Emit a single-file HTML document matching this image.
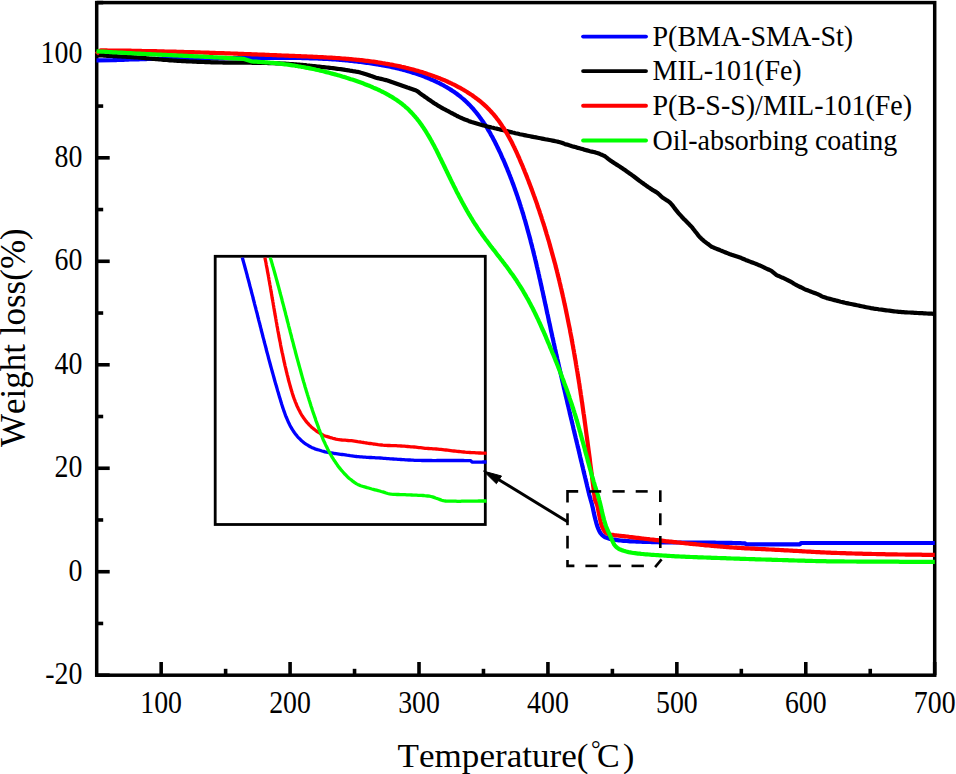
<!DOCTYPE html>
<html><head><meta charset="utf-8"><style>
html,body{margin:0;padding:0;background:#fff;}
body{width:956px;height:774px;overflow:hidden;position:relative;}
svg{position:absolute;left:0;top:0;}
text{font-family:"Liberation Serif",serif;fill:#000;font-kerning:none;}
</style></head><body>
<svg width="956" height="774" viewBox="0 0 956 774">
<g stroke="#000" stroke-width="3.6"><line x1="161.16" y1="675.2" x2="161.16" y2="662.00"/><line x1="290.08" y1="675.2" x2="290.08" y2="662.00"/><line x1="419.01" y1="675.2" x2="419.01" y2="662.00"/><line x1="547.93" y1="675.2" x2="547.93" y2="662.00"/><line x1="676.85" y1="675.2" x2="676.85" y2="662.00"/><line x1="805.78" y1="675.2" x2="805.78" y2="662.00"/><line x1="934.70" y1="675.2" x2="934.70" y2="662.00"/><line x1="225.62" y1="675.2" x2="225.62" y2="668.80"/><line x1="354.55" y1="675.2" x2="354.55" y2="668.80"/><line x1="483.47" y1="675.2" x2="483.47" y2="668.80"/><line x1="612.39" y1="675.2" x2="612.39" y2="668.80"/><line x1="741.32" y1="675.2" x2="741.32" y2="668.80"/><line x1="870.24" y1="675.2" x2="870.24" y2="668.80"/><line x1="96.7" y1="675.20" x2="109.70" y2="675.20"/><line x1="96.7" y1="571.72" x2="109.70" y2="571.72"/><line x1="96.7" y1="468.25" x2="109.70" y2="468.25"/><line x1="96.7" y1="364.77" x2="109.70" y2="364.77"/><line x1="96.7" y1="261.29" x2="109.70" y2="261.29"/><line x1="96.7" y1="157.82" x2="109.70" y2="157.82"/><line x1="96.7" y1="54.34" x2="109.70" y2="54.34"/><line x1="96.7" y1="623.46" x2="103.20" y2="623.46"/><line x1="96.7" y1="519.98" x2="103.20" y2="519.98"/><line x1="96.7" y1="416.51" x2="103.20" y2="416.51"/><line x1="96.7" y1="313.03" x2="103.20" y2="313.03"/><line x1="96.7" y1="209.55" x2="103.20" y2="209.55"/><line x1="96.7" y1="106.08" x2="103.20" y2="106.08"/><line x1="96.7" y1="2.60" x2="103.20" y2="2.60"/></g>
<rect x="96.7" y="2.6" width="838.0" height="672.6" fill="none" stroke="#000" stroke-width="3.5"/>
<g fill="none" stroke-linejoin="round" stroke-linecap="butt" stroke-width="4.2">
<polyline points="96.5,60.3 113.0,60.2 114.5,60.1 116.0,60.1 117.5,60.0 119.0,59.9 120.5,59.9 122.0,59.8 123.5,59.8 125.0,59.7 126.5,59.6 128.0,59.6 129.5,59.5 131.0,59.5 132.5,59.4 134.0,59.4 135.5,59.3 137.0,59.3 138.5,59.3 140.0,59.2 141.5,59.2 143.0,59.1 144.5,59.1 146.0,59.1 147.5,59.0 149.0,59.0 150.5,59.0 152.0,58.9 153.5,58.9 155.0,58.9 156.6,58.9 158.1,58.8 159.6,58.8 161.1,58.8 162.6,58.8 164.1,58.7 165.6,58.7 167.1,58.7 168.6,58.7 170.1,58.7 171.6,58.7 173.1,58.6 174.6,58.6 176.1,58.6 177.6,58.6 179.1,58.6 180.6,58.6 182.1,58.6 183.6,58.5 185.1,58.5 186.6,58.5 188.1,58.5 189.6,58.5 191.1,58.5 192.6,58.5 194.1,58.5 195.6,58.5 197.1,58.4 198.6,58.4 200.1,58.4 201.6,58.4 203.1,58.4 204.6,58.4 206.1,58.4 207.6,58.4 209.1,58.4 210.6,58.4 212.1,58.3 213.6,58.3 215.1,58.3 216.7,58.3 218.2,58.3 219.7,58.3 221.2,58.3 222.7,58.3 224.2,58.3 225.7,58.2 227.2,58.2 228.7,58.2 230.2,58.2 231.7,58.2 233.2,58.2 234.7,58.2 236.2,58.1 237.7,58.1 239.2,58.1 240.7,58.1 242.2,58.1 243.7,58.1 245.2,58.0 246.7,58.0 248.2,58.0 249.7,58.0 251.2,58.0 252.7,58.0 254.2,57.9 255.7,57.9 257.2,57.9 258.7,57.9 260.2,57.9 261.7,57.9 263.2,57.9 264.7,57.8 266.2,57.8 267.7,57.8 269.2,57.8 270.7,57.8 272.2,57.8 273.7,57.8 275.2,57.8 276.8,57.8 278.3,57.8 279.8,57.8 281.3,57.8 282.8,57.8 284.3,57.8 285.8,57.8 287.3,57.8 288.8,57.8 290.3,57.9 291.8,57.9 293.3,57.9 294.8,57.9 296.3,57.9 297.8,58.0 299.3,58.0 300.8,58.0 302.3,58.1 303.8,58.1 305.3,58.1 306.8,58.2 308.3,58.2 309.8,58.3 311.3,58.3 312.8,58.4 314.3,58.4 315.8,58.5 317.3,58.5 318.8,58.6 320.3,58.7 321.8,58.7 323.3,58.8 324.8,58.9 326.3,59.0 327.8,59.0 329.3,59.1 330.8,59.2 332.3,59.3 333.8,59.4 335.3,59.5 336.8,59.6 338.3,59.7 339.8,59.9 341.3,60.0 342.8,60.1 344.3,60.2 345.8,60.4 347.3,60.5 348.8,60.7 350.3,60.8 351.8,61.0 353.3,61.1 354.8,61.3 356.3,61.4 357.8,61.6 359.2,61.8 360.7,62.0 362.2,62.2 363.7,62.4 365.2,62.6 366.7,62.8 368.2,63.0 369.7,63.2 371.2,63.4 372.6,63.6 374.1,63.9 375.6,64.1 377.1,64.3 378.6,64.6 380.1,64.8 381.5,65.1 383.0,65.4 384.5,65.6 386.0,65.9 387.4,66.2 388.9,66.5 390.4,66.8 391.9,67.1 393.3,67.4 394.8,67.8 396.3,68.1 397.7,68.5 399.2,68.8 400.6,69.2 402.1,69.5 403.5,69.9 405.0,70.3 406.4,70.7 407.9,71.1 409.3,71.5 410.8,72.0 412.2,72.4 413.6,72.9 415.1,73.3 416.5,73.8 417.9,74.3 419.3,74.8 420.8,75.3 422.2,75.8 423.6,76.3 425.0,76.9 426.4,77.4 427.8,78.0 429.2,78.6 430.5,79.2 431.9,79.8 433.3,80.4 434.7,81.0 436.0,81.6 437.4,82.3 438.7,82.9 440.1,83.6 441.4,84.3 442.7,85.0 444.0,85.7 445.3,86.5 446.6,87.2 447.9,88.0 449.2,88.8 450.5,89.6 451.8,90.4 453.0,91.2 454.3,92.1 455.5,92.9 456.7,93.8 457.9,94.7 459.1,95.6 460.3,96.5 461.4,97.5 462.6,98.5 463.7,99.4 464.8,100.4 466.0,101.5 467.0,102.5 468.1,103.6 469.2,104.6 470.2,105.7 471.2,106.8 472.3,107.9 473.3,109.0 474.2,110.2 475.2,111.3 476.2,112.5 477.1,113.7 478.0,114.8 478.9,116.0 479.8,117.2 480.7,118.4 481.6,119.7 482.5,120.9 483.3,122.1 484.1,123.4 485.0,124.6 485.8,125.9 486.6,127.2 487.4,128.5 488.1,129.8 488.9,131.0 489.7,132.3 490.4,133.6 491.1,135.0 491.9,136.3 492.6,137.6 493.3,138.9 494.0,140.2 494.7,141.6 495.4,142.9 496.0,144.3 496.7,145.6 497.4,147.0 498.0,148.3 498.7,149.7 499.3,151.0 500.0,152.4 500.6,153.7 501.2,155.1 501.8,156.5 502.4,157.9 503.1,159.2 503.7,160.6 504.3,162.0 504.9,163.4 505.4,164.7 506.0,166.1 506.6,167.5 507.2,168.9 507.7,170.3 508.3,171.7 508.9,173.1 509.4,174.5 510.0,175.9 510.5,177.3 511.1,178.7 511.6,180.1 512.1,181.5 512.6,182.9 513.2,184.3 513.7,185.7 514.2,187.1 514.7,188.5 515.2,190.0 515.7,191.4 516.2,192.8 516.7,194.2 517.2,195.6 517.7,197.1 518.1,198.5 518.6,199.9 519.1,201.3 519.6,202.8 520.0,204.2 520.5,205.6 520.9,207.1 521.4,208.5 521.8,209.9 522.3,211.4 522.7,212.8 523.2,214.2 523.6,215.7 524.0,217.1 524.4,218.6 524.9,220.0 525.3,221.4 525.7,222.9 526.1,224.3 526.5,225.8 526.9,227.2 527.3,228.7 527.7,230.1 528.1,231.6 528.5,233.0 528.9,234.5 529.3,235.9 529.7,237.4 530.1,238.8 530.5,240.3 530.8,241.7 531.2,243.2 531.6,244.6 532.0,246.1 532.3,247.5 532.7,249.0 533.1,250.5 533.4,251.9 533.8,253.4 534.1,254.8 534.5,256.3 534.9,257.8 535.2,259.2 535.6,260.7 535.9,262.1 536.3,263.6 536.6,265.1 536.9,266.5 537.3,268.0 537.6,269.5 538.0,270.9 538.3,272.4 538.6,273.8 539.0,275.3 539.3,276.8 539.6,278.2 540.0,279.7 540.3,281.2 540.6,282.6 540.9,284.1 541.3,285.6 541.6,287.0 541.9,288.5 542.2,290.0 542.6,291.4 542.9,292.9 543.2,294.4 543.5,295.8 543.8,297.3 544.2,298.8 544.5,300.3 544.8,301.7 545.1,303.2 545.4,304.7 545.8,306.1 546.1,307.6 546.4,309.1 546.7,310.5 547.0,312.0 547.3,313.5 547.7,314.9 548.0,316.4 548.3,317.9 548.6,319.3 548.9,320.8 549.2,322.3 549.6,323.8 549.9,325.2 550.2,326.7 550.5,328.2 550.8,329.6 551.1,331.1 551.5,332.6 551.8,334.0 552.1,335.5 552.4,337.0 552.8,338.4 553.1,339.9 553.4,341.4 553.7,342.8 554.1,344.3 554.4,345.8 554.7,347.2 555.0,348.7 555.4,350.2 555.7,351.6 556.0,353.1 556.3,354.6 556.7,356.0 557.0,357.5 557.3,359.0 557.7,360.4 558.0,361.9 558.3,363.4 558.7,364.8 559.0,366.3 559.3,367.8 559.7,369.2 560.0,370.7 560.3,372.2 560.7,373.6 561.0,375.1 561.3,376.5 561.7,378.0 562.0,379.5 562.3,380.9 562.7,382.4 563.0,383.9 563.4,385.3 563.7,386.8 564.0,388.3 564.4,389.7 564.7,391.2 565.1,392.7 565.4,394.1 565.7,395.6 566.1,397.0 566.4,398.5 566.8,400.0 567.1,401.4 567.4,402.9 567.8,404.4 568.1,405.8 568.5,407.3 568.8,408.7 569.2,410.2 569.5,411.7 569.8,413.1 570.2,414.6 570.5,416.1 570.9,417.5 571.2,419.0 571.6,420.4 571.9,421.9 572.3,423.4 572.6,424.8 573.0,426.3 573.3,427.8 573.6,429.2 574.0,430.7 574.3,432.1 574.7,433.6 575.0,435.1 575.4,436.5 575.7,438.0 576.1,439.5 576.4,440.9 576.8,442.4 577.1,443.8 577.5,445.3 577.8,446.8 578.2,448.2 578.5,449.7 578.9,451.1 579.2,452.6 579.6,454.1 579.9,455.5 580.2,457.0 580.6,458.5 580.9,459.9 581.3,461.4 581.6,462.8 582.0,464.3 582.3,465.8 582.7,467.2 583.0,468.7 583.4,470.2 583.7,471.6 584.1,473.1 584.4,474.5 584.8,476.0 585.1,477.5 585.5,478.9 585.8,480.4 586.2,481.8 586.5,483.3 586.9,484.8 587.2,486.2 587.6,487.7 587.9,489.2 588.3,490.6 588.6,492.1 589.0,493.5 589.3,495.0 589.8,496.7 590.3,498.3 590.7,500.0 591.2,501.7 591.7,503.3 592.1,505.0 592.5,506.7 592.9,508.3 593.2,510.0 593.6,511.7 593.9,513.3 594.3,515.0 594.7,516.7 595.1,518.3 595.5,520.0 596.0,521.7 596.4,523.3 596.9,525.0 597.5,526.7 598.1,528.4 598.8,530.0 599.7,531.8 600.8,533.5 601.8,534.7 603.0,535.8 604.4,536.8 606.0,537.6 608.0,538.3 610.0,538.9 611.5,539.2 613.0,539.5 614.5,539.7 616.0,539.9 617.5,540.1 619.0,540.3 620.5,540.5 622.0,540.6 623.5,540.8 625.0,540.9 626.7,541.0 628.3,541.1 630.0,541.3 631.7,541.3 633.3,541.4 635.0,541.5 636.5,541.6 638.1,541.6 639.6,541.7 641.1,541.7 642.7,541.8 644.2,541.8 645.7,541.9 647.3,542.0 648.8,542.0 650.4,542.0 651.9,542.1 653.4,542.1 655.0,542.2 656.5,542.2 658.1,542.2 659.6,542.3 661.2,542.3 662.8,542.3 664.3,542.3 665.9,542.4 667.5,542.4 669.0,542.4 670.6,542.4 672.2,542.4 673.7,542.4 675.3,542.5 676.9,542.5 678.4,542.5 680.0,542.5 681.5,542.5 683.0,542.5 684.5,542.5 686.1,542.6 687.6,542.6 689.1,542.6 690.6,542.6 692.1,542.6 693.6,542.6 695.2,542.6 696.7,542.6 698.2,542.6 699.7,542.6 701.2,542.7 702.7,542.7 704.2,542.7 705.8,542.7 707.3,542.7 708.8,542.7 710.3,542.7 711.8,542.7 713.3,542.7 714.8,542.7 716.4,542.8 717.9,542.8 719.4,542.8 720.9,542.8 722.4,542.8 723.9,542.8 725.5,542.8 727.0,542.9 728.5,542.9 730.0,542.9 731.5,542.9 733.0,543.0 734.5,543.0 736.0,543.1 737.5,543.1 739.0,543.2 740.5,543.2 742.0,543.3 743.5,543.3 745.0,543.4 746.0,544.3 800.0,544.3 801.0,543.0 934.8,543.0" stroke="#0000ff"/>
<polyline points="96.5,55.2 98.0,55.3 99.5,55.4 101.1,55.4 102.6,55.5 104.1,55.6 105.6,55.7 107.1,55.8 108.7,55.8 110.2,55.9 111.7,56.0 113.2,56.1 114.7,56.2 116.3,56.2 117.8,56.3 119.3,56.4 120.8,56.5 122.3,56.6 123.9,56.6 125.4,56.7 126.9,56.8 128.4,56.9 129.9,57.0 131.4,57.1 133.0,57.2 134.5,57.3 136.0,57.4 137.5,57.5 139.1,57.6 140.6,57.7 142.2,57.9 143.7,58.0 145.2,58.1 146.8,58.3 148.3,58.4 149.8,58.5 151.4,58.7 152.9,58.8 154.5,58.9 156.0,59.1 157.5,59.2 159.1,59.4 160.6,59.5 162.1,59.6 163.7,59.8 165.2,59.9 166.8,60.0 168.3,60.1 169.8,60.3 171.4,60.4 172.9,60.5 174.5,60.6 176.0,60.7 177.5,60.8 179.1,60.9 180.6,61.0 182.1,61.1 183.7,61.1 185.2,61.2 186.8,61.3 188.3,61.4 189.8,61.5 191.4,61.5 192.9,61.6 194.5,61.7 196.0,61.7 197.5,61.8 199.1,61.8 200.6,61.9 202.1,62.0 203.7,62.0 205.2,62.1 206.8,62.1 208.3,62.2 209.8,62.2 211.4,62.3 212.9,62.3 214.5,62.4 216.0,62.4 217.5,62.4 219.0,62.5 220.5,62.5 222.0,62.5 223.5,62.6 225.0,62.6 226.5,62.6 228.0,62.6 229.5,62.6 231.0,62.6 232.5,62.6 234.0,62.6 235.5,62.6 237.0,62.6 238.5,62.7 240.0,62.7 241.5,62.7 243.0,62.7 244.5,62.7 246.0,62.7 247.7,62.7 249.3,62.7 251.0,62.7 252.7,62.8 254.3,62.8 256.0,62.8 257.5,62.8 259.1,62.9 260.6,62.9 262.2,62.9 263.7,63.0 265.2,63.0 266.8,63.0 268.3,63.1 269.8,63.1 271.4,63.1 272.9,63.2 274.5,63.2 276.0,63.3 277.5,63.4 279.1,63.4 280.6,63.5 282.2,63.6 283.7,63.6 285.2,63.7 286.8,63.8 288.3,63.9 289.9,64.0 291.4,64.1 292.9,64.2 294.5,64.3 296.0,64.4 297.5,64.5 299.1,64.6 300.6,64.8 302.2,64.9 303.7,65.1 305.2,65.2 306.8,65.4 308.3,65.5 309.9,65.7 311.4,65.8 312.9,66.0 314.5,66.1 316.0,66.3 317.5,66.5 319.1,66.6 320.6,66.8 322.2,67.0 323.7,67.1 325.2,67.3 326.8,67.5 328.3,67.6 329.9,67.8 331.4,68.0 332.9,68.2 334.5,68.4 336.0,68.6 337.5,68.8 339.1,69.0 340.6,69.2 342.2,69.4 343.7,69.6 345.3,69.9 346.8,70.1 348.3,70.3 349.9,70.6 351.4,70.8 352.9,71.1 354.5,71.3 356.0,71.6 357.7,71.9 359.4,72.3 361.0,72.8 362.7,73.2 364.3,73.7 366.0,74.2 367.5,74.7 369.0,75.2 370.5,75.8 372.0,76.3 374.0,77.0 376.0,77.7 377.7,78.1 379.3,78.5 381.0,78.9 382.7,79.3 384.3,79.7 386.0,80.1 387.4,80.5 388.9,81.0 390.3,81.5 391.7,82.0 393.2,82.5 394.6,83.0 396.0,83.5 397.4,84.0 398.9,84.5 400.3,85.0 401.7,85.5 403.1,86.0 404.6,86.5 406.0,87.0 407.4,87.5 408.9,87.9 410.3,88.4 411.8,88.9 413.2,89.4 414.6,89.9 416.0,90.5 417.3,91.2 418.6,92.1 419.8,93.1 421.0,94.0 422.3,94.9 423.6,95.8 424.8,96.7 426.1,97.6 427.4,98.5 428.7,99.4 430.0,100.3 431.4,101.3 432.8,102.2 434.2,103.2 435.7,104.1 437.1,105.0 438.5,105.9 440.0,106.8 441.4,107.6 442.8,108.4 444.2,109.2 445.7,109.9 447.1,110.7 448.6,111.4 450.0,112.2 451.4,113.0 452.8,113.7 454.3,114.5 455.7,115.2 457.1,116.0 458.5,116.7 460.0,117.4 461.4,118.0 462.8,118.6 464.2,119.2 465.7,119.8 467.1,120.3 468.6,120.9 470.0,121.4 471.6,122.0 473.3,122.5 475.0,123.0 476.6,123.5 478.3,124.0 480.0,124.5 481.7,125.0 483.3,125.4 485.0,125.8 486.7,126.3 488.3,126.7 490.0,127.1 491.5,127.5 493.1,127.8 494.6,128.2 496.1,128.5 497.6,128.9 499.2,129.2 500.7,129.6 502.2,130.0 503.6,130.3 505.1,130.7 506.6,131.0 508.1,131.4 509.5,131.7 511.0,132.1 512.5,132.5 513.9,132.8 515.4,133.2 516.9,133.5 518.3,133.8 519.8,134.2 521.3,134.5 522.8,134.8 524.2,135.1 525.7,135.4 527.2,135.7 528.7,136.0 530.2,136.3 531.6,136.6 533.1,136.9 534.6,137.2 536.1,137.4 537.6,137.7 539.0,138.0 540.5,138.3 542.0,138.6 543.5,138.9 545.0,139.2 546.5,139.5 548.0,139.7 549.5,140.0 551.0,140.3 552.5,140.6 554.0,140.9 555.5,141.2 557.0,141.5 558.5,141.9 560.0,142.2 561.6,142.7 563.1,143.3 564.6,143.9 566.2,144.4 567.7,144.8 569.2,145.3 570.6,145.7 572.1,146.2 573.6,146.6 575.1,147.0 576.6,147.4 578.1,147.9 579.6,148.3 581.1,148.7 582.5,149.1 584.0,149.6 585.5,150.0 587.0,150.4 588.5,150.8 590.0,151.2 591.8,151.6 593.6,152.0 595.4,152.4 597.2,152.9 598.7,153.4 600.1,154.1 601.6,154.7 603.0,155.4 604.5,156.0 605.7,156.9 607.0,157.9 608.2,158.9 609.4,159.8 610.7,160.7 612.0,161.6 613.3,162.4 614.5,163.2 615.8,164.1 617.1,164.9 618.4,165.7 619.7,166.5 621.0,167.4 622.3,168.3 623.6,169.2 624.9,170.1 626.2,171.0 627.5,171.9 628.7,172.8 630.0,173.7 631.3,174.6 632.6,175.6 633.9,176.5 635.2,177.5 636.5,178.5 637.8,179.5 639.1,180.5 640.4,181.4 641.7,182.4 643.0,183.3 644.2,184.2 645.5,185.1 646.8,186.1 648.1,187.0 649.4,187.8 650.7,188.7 652.0,189.6 653.3,190.4 654.6,191.1 655.9,191.9 657.2,192.7 658.5,193.8 659.8,195.0 661.1,196.3 662.4,197.4 663.7,198.3 665.1,199.2 666.4,200.1 667.8,200.9 669.1,201.9 670.3,202.9 671.4,204.1 672.5,205.4 673.5,206.7 674.5,208.1 675.5,209.4 676.5,210.7 677.5,211.9 678.5,213.1 679.6,214.3 680.6,215.4 681.7,216.6 682.7,217.8 683.8,218.9 685.0,220.1 686.2,221.3 687.4,222.5 688.6,223.7 689.8,225.0 691.0,226.2 692.1,227.4 693.1,228.7 694.1,230.0 695.1,231.3 696.1,232.5 697.1,233.8 698.1,235.1 699.1,236.3 700.2,237.5 701.3,238.6 702.5,239.7 703.8,240.8 705.1,241.8 706.4,242.8 707.7,243.8 709.1,244.8 710.4,245.8 711.7,246.8 713.2,247.4 714.6,248.0 716.1,248.6 717.6,249.2 719.1,249.8 720.5,250.4 722.0,251.0 723.5,251.6 725.0,252.2 726.4,252.8 727.9,253.4 729.4,254.0 730.9,254.5 732.4,255.1 733.9,255.6 735.4,256.1 737.0,256.6 738.5,257.1 740.0,257.6 741.4,258.1 742.8,258.7 744.2,259.3 745.6,259.9 747.0,260.4 748.4,261.0 750.0,261.6 751.5,262.2 753.1,262.8 754.7,263.4 756.3,264.0 757.8,264.6 759.3,265.3 760.8,265.9 762.4,266.6 763.9,267.3 765.4,268.1 766.9,268.8 768.4,269.5 769.9,270.2 771.4,270.9 776.6,275.1 778.1,275.8 779.6,276.4 781.1,277.1 782.6,277.7 784.1,278.4 785.6,279.1 787.1,279.8 788.6,280.6 790.1,281.4 791.6,282.2 793.0,283.1 794.5,284.0 796.0,284.8 797.5,285.6 798.9,286.3 800.3,287.0 801.7,287.7 803.1,288.4 804.5,289.1 805.9,289.7 807.5,290.3 809.0,290.9 810.6,291.5 812.2,292.1 813.8,292.7 815.4,293.3 816.9,293.9 818.5,294.5 820.2,295.4 821.9,296.3 823.7,297.1 825.2,297.6 826.7,298.1 828.3,298.5 829.8,298.9 831.4,299.3 832.9,299.7 834.5,300.1 836.0,300.5 837.5,300.9 839.0,301.3 840.5,301.7 842.0,302.0 843.5,302.4 845.0,302.8 846.5,303.1 848.0,303.4 849.5,303.7 851.0,304.0 852.4,304.3 853.9,304.6 855.4,304.9 856.9,305.2 858.5,305.5 860.0,305.9 861.6,306.2 863.2,306.5 864.8,306.9 866.3,307.2 867.9,307.5 869.5,307.8 871.0,308.1 872.5,308.3 874.0,308.6 875.5,308.8 877.0,309.0 878.6,309.3 880.1,309.5 881.6,309.7 883.1,309.9 884.7,310.1 886.2,310.3 887.8,310.5 889.4,310.7 890.9,310.9 892.5,311.1 894.1,311.3 895.7,311.5 897.2,311.6 898.8,311.8 900.4,311.9 901.9,312.1 903.5,312.2 905.1,312.3 906.6,312.4 908.2,312.5 909.8,312.5 911.4,312.6 912.9,312.7 914.5,312.8 916.1,312.9 917.6,313.0 919.2,313.1 920.7,313.2 922.3,313.2 923.9,313.3 925.4,313.4 927.0,313.5 928.6,313.6 930.1,313.6 931.7,313.7 933.2,313.8 934.8,313.9" stroke="#000"/>
<polyline points="96.5,54.2 98.2,52.2 100.5,50.4 102.0,50.4 103.5,50.4 105.0,50.4 106.5,50.4 108.0,50.5 109.5,50.5 111.0,50.5 112.5,50.5 114.0,50.5 115.5,50.5 117.0,50.6 118.5,50.6 120.0,50.6 121.5,50.6 123.0,50.6 124.5,50.7 126.0,50.7 127.5,50.7 129.0,50.7 130.5,50.7 132.0,50.8 133.5,50.8 135.0,50.8 136.5,50.9 138.0,50.9 139.5,50.9 141.0,50.9 142.5,51.0 144.0,51.0 145.6,51.0 147.1,51.0 148.6,51.1 150.1,51.1 151.6,51.1 153.1,51.2 154.6,51.2 156.1,51.2 157.6,51.3 159.1,51.3 160.6,51.3 162.1,51.4 163.6,51.4 165.1,51.5 166.6,51.5 168.1,51.5 169.6,51.6 171.1,51.6 172.6,51.6 174.1,51.7 175.6,51.7 177.1,51.8 178.6,51.8 180.1,51.8 181.6,51.9 183.1,51.9 184.6,52.0 186.1,52.0 187.6,52.1 189.1,52.1 190.6,52.1 192.1,52.2 193.6,52.2 195.1,52.3 196.6,52.3 198.1,52.4 199.6,52.4 201.1,52.5 202.6,52.5 204.1,52.6 205.6,52.6 207.1,52.7 208.6,52.7 210.1,52.8 211.6,52.8 213.1,52.9 214.6,52.9 216.1,53.0 217.6,53.0 219.1,53.1 220.6,53.1 222.1,53.2 223.6,53.2 225.1,53.3 226.6,53.3 228.1,53.4 229.6,53.4 231.1,53.5 232.6,53.5 234.1,53.6 235.6,53.6 237.1,53.7 238.6,53.8 240.1,53.8 241.6,53.9 243.1,53.9 244.6,54.0 246.1,54.0 247.6,54.1 249.1,54.2 250.6,54.2 252.1,54.3 253.6,54.3 255.1,54.4 256.6,54.4 258.1,54.5 259.6,54.6 261.1,54.6 262.6,54.7 264.1,54.7 265.6,54.8 267.1,54.9 268.6,54.9 270.1,55.0 271.6,55.0 273.1,55.1 274.6,55.2 276.1,55.2 277.6,55.3 279.1,55.3 280.6,55.4 282.1,55.5 283.6,55.5 285.1,55.6 286.6,55.6 288.1,55.7 289.6,55.8 291.1,55.8 292.6,55.9 294.1,55.9 295.7,56.0 297.2,56.1 298.7,56.1 300.2,56.2 301.7,56.3 303.2,56.3 304.7,56.4 306.2,56.4 307.7,56.5 309.2,56.6 310.7,56.6 312.2,56.7 313.7,56.8 315.2,56.8 316.7,56.9 318.2,57.0 319.7,57.1 321.2,57.1 322.7,57.2 324.2,57.3 325.7,57.4 327.2,57.5 328.7,57.6 330.2,57.6 331.7,57.7 333.2,57.8 334.7,57.9 336.1,58.0 337.6,58.1 339.1,58.2 340.6,58.3 342.1,58.5 343.6,58.6 345.1,58.7 346.6,58.8 348.1,58.9 349.6,59.1 351.1,59.2 352.6,59.3 354.1,59.5 355.6,59.6 357.1,59.8 358.6,59.9 360.1,60.1 361.6,60.2 363.1,60.4 364.6,60.6 366.1,60.8 367.5,60.9 369.0,61.1 370.5,61.3 372.0,61.5 373.5,61.7 375.0,61.9 376.5,62.1 378.0,62.4 379.4,62.6 380.9,62.8 382.4,63.1 383.9,63.3 385.4,63.6 386.9,63.8 388.3,64.1 389.8,64.4 391.3,64.6 392.8,64.9 394.2,65.2 395.7,65.5 397.2,65.8 398.7,66.1 400.1,66.4 401.6,66.8 403.0,67.1 404.5,67.4 406.0,67.8 407.4,68.1 408.9,68.5 410.3,68.9 411.8,69.2 413.2,69.6 414.7,70.0 416.1,70.4 417.6,70.8 419.0,71.3 420.5,71.7 421.9,72.1 423.3,72.6 424.8,73.0 426.2,73.5 427.6,74.0 429.0,74.4 430.5,74.9 431.9,75.4 433.3,75.9 434.7,76.5 436.1,77.0 437.5,77.5 438.9,78.1 440.3,78.6 441.7,79.2 443.1,79.8 444.5,80.3 445.9,80.9 447.2,81.5 448.6,82.2 450.0,82.8 451.3,83.4 452.7,84.1 454.0,84.7 455.4,85.4 456.7,86.1 458.0,86.8 459.4,87.5 460.7,88.2 462.0,89.0 463.3,89.7 464.6,90.5 465.9,91.3 467.1,92.0 468.4,92.9 469.7,93.7 470.9,94.5 472.2,95.3 473.4,96.2 474.6,97.1 475.8,98.0 477.0,98.9 478.2,99.8 479.4,100.7 480.6,101.7 481.7,102.6 482.9,103.6 484.0,104.6 485.1,105.6 486.2,106.6 487.3,107.7 488.3,108.7 489.4,109.8 490.4,110.9 491.4,112.0 492.4,113.1 493.4,114.2 494.4,115.4 495.4,116.6 496.3,117.7 497.2,118.9 498.1,120.1 499.0,121.3 499.9,122.5 500.7,123.8 501.6,125.0 502.4,126.3 503.2,127.5 504.1,128.8 504.9,130.1 505.6,131.3 506.4,132.6 507.2,133.9 507.9,135.2 508.6,136.5 509.4,137.9 510.1,139.2 510.8,140.5 511.5,141.8 512.2,143.2 512.8,144.5 513.5,145.9 514.2,147.2 514.8,148.6 515.4,149.9 516.1,151.3 516.7,152.6 517.3,154.0 517.9,155.4 518.5,156.8 519.2,158.1 519.7,159.5 520.3,160.9 520.9,162.3 521.5,163.7 522.1,165.0 522.7,166.4 523.2,167.8 523.8,169.2 524.4,170.6 524.9,172.0 525.5,173.4 526.1,174.8 526.6,176.2 527.2,177.6 527.7,179.0 528.3,180.4 528.8,181.8 529.3,183.2 529.9,184.6 530.4,186.0 530.9,187.4 531.5,188.8 532.0,190.2 532.5,191.6 533.0,193.0 533.5,194.4 534.0,195.8 534.6,197.3 535.1,198.7 535.6,200.1 536.1,201.5 536.6,202.9 537.1,204.3 537.5,205.8 538.0,207.2 538.5,208.6 539.0,210.0 539.5,211.4 539.9,212.9 540.4,214.3 540.9,215.7 541.4,217.2 541.8,218.6 542.3,220.0 542.7,221.4 543.2,222.9 543.7,224.3 544.1,225.7 544.6,227.2 545.0,228.6 545.4,230.0 545.9,231.5 546.3,232.9 546.7,234.3 547.2,235.8 547.6,237.2 548.0,238.7 548.5,240.1 548.9,241.5 549.3,243.0 549.7,244.4 550.1,245.9 550.5,247.3 550.9,248.8 551.3,250.2 551.7,251.7 552.1,253.1 552.5,254.6 552.9,256.0 553.3,257.5 553.7,258.9 554.1,260.4 554.5,261.8 554.9,263.3 555.3,264.7 555.6,266.2 556.0,267.6 556.4,269.1 556.8,270.5 557.1,272.0 557.5,273.4 557.8,274.9 558.2,276.4 558.6,277.8 558.9,279.3 559.3,280.7 559.6,282.2 560.0,283.7 560.3,285.1 560.7,286.6 561.0,288.0 561.4,289.5 561.7,291.0 562.0,292.4 562.4,293.9 562.7,295.4 563.0,296.8 563.4,298.3 563.7,299.8 564.0,301.2 564.3,302.7 564.6,304.2 565.0,305.6 565.3,307.1 565.6,308.6 565.9,310.0 566.2,311.5 566.5,313.0 566.8,314.4 567.1,315.9 567.4,317.4 567.7,318.9 568.0,320.3 568.3,321.8 568.6,323.3 568.9,324.8 569.2,326.2 569.5,327.7 569.8,329.2 570.1,330.6 570.3,332.1 570.6,333.6 570.9,335.1 571.2,336.5 571.5,338.0 571.7,339.5 572.0,341.0 572.3,342.5 572.5,343.9 572.8,345.4 573.1,346.9 573.3,348.4 573.6,349.8 573.9,351.3 574.1,352.8 574.4,354.3 574.6,355.8 574.9,357.2 575.1,358.7 575.4,360.2 575.7,361.7 575.9,363.2 576.1,364.6 576.4,366.1 576.6,367.6 576.9,369.1 577.1,370.6 577.4,372.1 577.6,373.5 577.8,375.0 578.1,376.5 578.3,378.0 578.6,379.5 578.8,381.0 579.0,382.4 579.3,383.9 579.5,385.4 579.7,386.9 579.9,388.4 580.2,389.9 580.4,391.3 580.6,392.8 580.8,394.3 581.1,395.8 581.3,397.3 581.5,398.8 581.7,400.3 581.9,401.7 582.2,403.2 582.4,404.7 582.6,406.2 582.8,407.7 583.0,409.2 583.2,410.7 583.4,412.1 583.6,413.6 583.9,415.1 584.1,416.6 584.3,418.1 584.5,419.6 584.7,421.1 584.9,422.6 585.1,424.0 585.3,425.5 585.5,427.0 585.7,428.5 585.9,430.0 586.1,431.5 586.3,433.0 586.5,434.5 586.7,436.0 586.9,437.4 587.1,438.9 587.3,440.4 587.5,441.9 587.7,443.4 587.9,444.9 588.1,446.4 588.3,447.9 588.5,449.4 588.7,450.8 588.9,452.3 589.1,453.8 589.3,455.3 589.5,456.8 589.7,458.3 589.9,459.8 590.0,461.3 590.2,462.8 590.4,464.2 590.6,465.7 590.8,467.2 591.0,468.7 591.2,470.2 591.4,471.7 591.6,473.2 591.8,474.7 592.0,476.2 592.1,477.7 592.3,479.1 592.5,480.6 592.7,482.1 592.9,483.6 593.1,485.1 593.3,486.6 593.5,488.1 593.7,489.6 593.9,491.1 594.0,492.6 594.2,494.0 594.4,495.5 594.6,497.0 594.8,498.5 595.0,500.0 595.7,501.7 596.5,503.3 597.1,505.0 597.5,506.6 597.9,508.3 598.2,510.0 598.5,511.7 598.9,513.3 599.2,515.0 599.6,516.7 599.9,518.4 600.3,520.0 600.6,521.7 601.0,523.4 601.5,525.0 602.1,526.7 602.9,528.4 603.8,530.0 604.8,531.5 606.0,532.8 607.4,533.7 609.0,534.2 610.7,534.6 612.5,534.8 614.2,535.1 616.0,535.3 617.5,535.5 619.0,535.7 620.5,535.8 622.0,536.0 623.5,536.1 625.0,536.3 626.7,536.5 628.3,536.7 630.0,537.0 631.7,537.2 633.3,537.4 635.0,537.6 636.5,537.8 638.0,537.9 639.5,538.1 641.0,538.3 642.5,538.5 644.0,538.7 645.5,538.8 647.0,539.0 648.5,539.2 650.0,539.4 651.5,539.5 653.0,539.7 654.5,539.9 656.0,540.1 657.5,540.2 659.0,540.4 660.5,540.6 662.0,540.7 663.5,540.9 665.0,541.1 666.5,541.3 668.0,541.4 669.5,541.6 671.0,541.7 672.5,541.9 674.0,542.1 675.5,542.2 677.0,542.4 678.5,542.5 680.0,542.7 681.5,542.9 683.0,543.0 684.5,543.2 686.1,543.3 687.6,543.5 689.1,543.6 690.6,543.8 692.1,543.9 693.6,544.1 695.1,544.2 696.7,544.4 698.2,544.5 699.7,544.7 701.2,544.8 702.7,545.0 704.2,545.1 705.7,545.3 707.3,545.4 708.8,545.5 710.3,545.7 711.8,545.8 713.3,545.9 714.8,546.1 716.4,546.2 717.9,546.3 719.4,546.5 720.9,546.6 722.4,546.7 723.9,546.8 725.4,547.0 727.0,547.1 728.5,547.2 730.0,547.3 731.5,547.4 733.0,547.5 734.5,547.6 736.1,547.7 737.6,547.8 739.1,547.9 740.6,548.0 742.1,548.1 743.6,548.2 745.1,548.3 746.7,548.3 748.2,548.4 749.7,548.5 751.2,548.6 752.7,548.7 754.2,548.7 755.7,548.8 757.3,548.9 758.8,549.0 760.3,549.0 761.8,549.1 763.3,549.2 764.8,549.2 766.4,549.3 767.9,549.4 769.4,549.5 770.9,549.5 772.4,549.6 773.9,549.7 775.5,549.8 777.0,549.8 778.5,549.9 780.0,550.0 781.5,550.1 783.0,550.2 784.5,550.3 786.1,550.3 787.6,550.4 789.1,550.5 790.6,550.6 792.1,550.7 793.6,550.8 795.1,550.9 796.7,550.9 798.2,551.0 799.7,551.1 801.2,551.2 802.7,551.3 804.2,551.4 805.8,551.5 807.3,551.6 808.8,551.6 810.3,551.7 811.8,551.8 813.3,551.9 814.8,552.0 816.4,552.1 817.9,552.1 819.4,552.2 820.9,552.3 822.4,552.4 823.9,552.4 825.5,552.5 827.0,552.6 828.5,552.6 830.0,552.7 831.5,552.8 833.0,552.8 834.5,552.9 836.1,552.9 837.6,553.0 839.1,553.0 840.6,553.1 842.1,553.1 843.6,553.2 845.1,553.2 846.7,553.3 848.2,553.3 849.7,553.4 851.2,553.4 852.7,553.5 854.2,553.5 855.7,553.6 857.3,553.6 858.8,553.6 860.3,553.7 861.8,553.7 863.3,553.8 864.8,553.8 866.3,553.8 867.9,553.9 869.4,553.9 870.9,553.9 872.4,554.0 873.9,554.0 875.4,554.0 876.9,554.1 878.5,554.1 880.0,554.1 881.5,554.2 883.0,554.2 884.5,554.2 886.0,554.3 887.6,554.3 889.1,554.3 890.6,554.3 892.1,554.4 893.7,554.4 895.2,554.4 896.7,554.4 898.2,554.5 899.8,554.5 901.3,554.5 902.8,554.5 904.3,554.5 905.9,554.6 907.4,554.6 908.9,554.6 910.4,554.6 911.9,554.6 913.5,554.7 915.0,554.7 916.5,554.7 918.0,554.7 919.6,554.7 921.1,554.7 922.6,554.8 924.1,554.8 925.7,554.8 927.2,554.8 928.7,554.8 930.2,554.8 931.8,554.9 933.3,554.9 934.8,554.9" stroke="#ff0000"/>
<polyline points="96.5,51.3 98.0,51.4 99.5,51.5 101.0,51.6 102.5,51.7 104.0,51.7 105.5,51.8 107.0,51.9 108.5,52.0 110.0,52.1 111.5,52.2 113.1,52.3 114.6,52.3 116.1,52.4 117.6,52.5 119.1,52.6 120.6,52.7 122.1,52.7 123.6,52.8 125.1,52.9 126.6,53.0 128.1,53.1 129.6,53.1 131.1,53.2 132.6,53.3 134.1,53.4 135.6,53.5 137.1,53.5 138.6,53.6 140.1,53.7 141.6,53.8 143.2,53.8 144.7,53.9 146.2,54.0 147.7,54.1 149.2,54.1 150.7,54.2 152.2,54.3 153.7,54.3 155.2,54.4 156.7,54.5 158.2,54.6 159.7,54.6 161.2,54.7 162.7,54.8 164.2,54.9 165.7,54.9 167.2,55.0 168.7,55.1 170.2,55.1 171.8,55.2 173.3,55.3 174.8,55.4 176.3,55.4 177.8,55.5 179.3,55.6 180.8,55.6 182.3,55.7 183.8,55.8 185.3,55.9 186.8,55.9 188.3,56.0 189.8,56.1 191.3,56.2 192.8,56.2 194.3,56.3 195.8,56.4 197.3,56.4 198.8,56.5 200.4,56.6 201.9,56.7 203.4,56.7 204.9,56.8 206.4,56.9 207.9,57.0 209.4,57.0 210.9,57.1 212.4,57.2 213.9,57.3 215.4,57.3 216.9,57.4 218.4,57.5 219.9,57.6 221.4,57.7 222.9,57.7 224.4,57.8 225.9,57.9 227.4,58.0 229.0,58.1 230.5,58.1 232.0,58.2 233.5,58.3 235.0,58.4 236.5,58.5 238.0,58.6 239.5,58.6 241.0,58.7 242.5,58.8 244.0,58.9 252.0,61.5 253.5,61.6 255.0,61.6 256.5,61.7 258.0,61.8 259.5,61.9 261.0,62.0 262.5,62.1 264.0,62.2 265.5,62.3 267.0,62.4 268.5,62.5 270.0,62.7 271.5,62.8 273.0,62.9 274.5,63.1 276.0,63.2 277.5,63.4 279.0,63.6 280.5,63.7 282.0,63.9 283.4,64.1 284.9,64.3 286.4,64.5 287.9,64.7 289.4,64.9 290.9,65.1 292.4,65.3 293.9,65.5 295.4,65.8 296.8,66.0 298.3,66.3 299.8,66.5 301.3,66.8 302.8,67.0 304.2,67.3 305.7,67.6 307.2,67.8 308.7,68.1 310.1,68.4 311.6,68.7 313.1,69.0 314.6,69.3 316.0,69.7 317.5,70.0 319.0,70.3 320.4,70.7 321.9,71.0 323.4,71.3 324.8,71.7 326.3,72.1 327.7,72.4 329.2,72.8 330.6,73.2 332.1,73.6 333.5,74.0 335.0,74.4 336.4,74.8 337.9,75.2 339.3,75.6 340.8,76.0 342.2,76.5 343.7,76.9 345.1,77.3 346.5,77.8 348.0,78.2 349.4,78.7 350.8,79.2 352.2,79.6 353.7,80.1 355.1,80.6 356.5,81.1 357.9,81.6 359.3,82.1 360.8,82.6 362.2,83.1 363.6,83.6 365.0,84.2 366.4,84.7 367.8,85.3 369.2,85.8 370.6,86.4 372.0,87.0 373.3,87.6 374.7,88.2 376.1,88.8 377.5,89.4 378.8,90.0 380.2,90.7 381.5,91.3 382.9,92.0 384.2,92.7 385.6,93.4 386.9,94.1 388.2,94.8 389.5,95.6 390.8,96.3 392.1,97.1 393.4,97.9 394.6,98.7 395.9,99.5 397.1,100.4 398.4,101.2 399.6,102.1 400.8,103.0 402.0,103.9 403.1,104.9 404.3,105.8 405.4,106.8 406.6,107.8 407.7,108.8 408.8,109.8 409.8,110.9 410.9,112.0 411.9,113.1 412.9,114.2 413.9,115.3 414.9,116.4 415.9,117.6 416.9,118.7 417.8,119.9 418.7,121.1 419.6,122.3 420.5,123.5 421.4,124.7 422.2,126.0 423.1,127.2 423.9,128.5 424.7,129.7 425.6,131.0 426.4,132.3 427.1,133.5 427.9,134.8 428.7,136.1 429.4,137.4 430.2,138.7 430.9,140.0 431.7,141.3 432.4,142.7 433.1,144.0 433.8,145.3 434.5,146.6 435.2,148.0 435.9,149.3 436.6,150.6 437.2,152.0 437.9,153.3 438.6,154.7 439.2,156.0 439.9,157.4 440.6,158.7 441.2,160.1 441.9,161.4 442.5,162.8 443.2,164.1 443.9,165.5 444.5,166.8 445.2,168.2 445.8,169.5 446.5,170.9 447.1,172.3 447.8,173.6 448.4,175.0 449.1,176.3 449.8,177.7 450.4,179.0 451.1,180.4 451.7,181.7 452.4,183.1 453.1,184.4 453.7,185.7 454.4,187.1 455.1,188.4 455.8,189.8 456.4,191.1 457.1,192.5 457.8,193.8 458.5,195.1 459.2,196.5 459.9,197.8 460.6,199.1 461.3,200.4 462.0,201.8 462.7,203.1 463.5,204.4 464.2,205.7 464.9,207.0 465.6,208.4 466.4,209.7 467.1,211.0 467.9,212.3 468.6,213.6 469.4,214.9 470.2,216.2 470.9,217.4 471.7,218.7 472.5,220.0 473.3,221.3 474.1,222.6 474.9,223.8 475.7,225.1 476.6,226.3 477.4,227.6 478.2,228.8 479.1,230.1 479.9,231.3 480.8,232.6 481.7,233.8 482.5,235.0 483.4,236.2 484.3,237.4 485.2,238.7 486.1,239.9 487.0,241.1 487.9,242.3 488.8,243.5 489.7,244.7 490.6,245.9 491.5,247.1 492.4,248.2 493.3,249.4 494.3,250.6 495.2,251.8 496.1,253.0 497.0,254.2 497.9,255.4 498.9,256.6 499.8,257.8 500.7,259.0 501.6,260.1 502.5,261.3 503.4,262.5 504.4,263.7 505.3,264.9 506.2,266.1 507.1,267.3 508.0,268.5 508.9,269.7 509.7,271.0 510.6,272.2 511.5,273.4 512.4,274.6 513.3,275.8 514.1,277.1 515.0,278.3 515.8,279.6 516.7,280.8 517.5,282.1 518.3,283.3 519.1,284.6 519.9,285.8 520.7,287.1 521.5,288.4 522.3,289.7 523.1,291.0 523.8,292.3 524.6,293.6 525.3,294.9 526.1,296.2 526.8,297.5 527.6,298.8 528.3,300.1 529.0,301.4 529.7,302.8 530.4,304.1 531.1,305.4 531.8,306.7 532.5,308.1 533.2,309.4 533.8,310.8 534.5,312.1 535.2,313.5 535.8,314.8 536.5,316.2 537.1,317.5 537.8,318.9 538.4,320.2 539.0,321.6 539.7,323.0 540.3,324.3 540.9,325.7 541.5,327.1 542.1,328.5 542.7,329.8 543.4,331.2 544.0,332.6 544.6,334.0 545.2,335.3 545.8,336.7 546.3,338.1 546.9,339.5 547.5,340.9 548.1,342.3 548.7,343.6 549.3,345.0 549.8,346.4 550.4,347.8 551.0,349.2 551.6,350.6 552.1,352.0 552.7,353.4 553.3,354.7 553.9,356.1 554.4,357.5 555.0,358.9 555.5,360.3 556.1,361.7 556.7,363.1 557.2,364.5 557.8,365.9 558.3,367.3 558.9,368.7 559.4,370.1 560.0,371.5 560.5,372.9 561.0,374.3 561.6,375.7 562.1,377.1 562.6,378.5 563.2,379.9 563.7,381.3 564.2,382.8 564.7,384.2 565.2,385.6 565.8,387.0 566.3,388.4 566.8,389.8 567.3,391.2 567.8,392.7 568.3,394.1 568.8,395.5 569.3,396.9 569.7,398.3 570.2,399.8 570.7,401.2 571.2,402.6 571.7,404.0 572.1,405.5 572.6,406.9 573.1,408.3 573.5,409.7 574.0,411.2 574.4,412.6 574.9,414.0 575.3,415.5 575.8,416.9 576.2,418.4 576.6,419.8 577.1,421.2 577.5,422.7 577.9,424.1 578.3,425.6 578.7,427.0 579.1,428.5 579.5,429.9 579.9,431.4 580.4,432.8 580.7,434.3 581.1,435.7 581.5,437.2 581.9,438.6 582.3,440.1 582.7,441.5 583.1,443.0 583.5,444.4 583.9,445.9 584.3,447.3 584.7,448.8 585.0,450.2 585.4,451.7 585.8,453.1 586.2,454.6 586.6,456.0 587.0,457.5 587.4,458.9 587.7,460.4 588.1,461.8 588.5,463.3 588.9,464.7 589.3,466.2 589.7,467.6 590.1,469.1 590.5,470.5 590.9,472.0 591.3,473.4 591.7,474.9 592.1,476.3 592.6,477.8 593.0,479.2 593.4,480.7 593.8,482.1 594.3,483.5 594.7,485.0 595.1,486.4 595.6,487.8 596.0,489.3 596.5,490.7 597.0,492.1 597.4,493.6 597.9,495.0 598.3,496.7 598.8,498.3 599.2,500.0 599.7,501.7 600.1,503.3 600.5,505.0 600.9,506.7 601.3,508.3 601.6,510.0 602.0,511.7 602.4,513.3 602.8,515.0 603.2,516.7 603.7,518.4 604.1,520.0 604.6,521.7 605.1,523.4 605.6,525.0 606.1,526.5 606.7,527.9 607.3,529.3 607.9,530.7 608.5,532.2 609.2,533.6 609.8,535.0 610.5,536.6 611.2,538.2 611.9,539.8 612.6,541.4 613.4,543.0 614.3,544.7 615.5,546.2 617.0,547.6 618.7,548.8 620.3,549.6 622.0,550.2 623.7,550.8 625.4,551.3 627.0,551.7 628.6,552.1 630.2,552.4 631.8,552.7 633.4,553.0 635.0,553.2 636.5,553.4 638.1,553.6 639.6,553.7 641.1,553.9 642.7,554.0 644.2,554.2 645.8,554.3 647.3,554.4 648.8,554.5 650.4,554.7 651.9,554.8 653.5,554.9 655.0,555.0 656.6,555.1 658.1,555.2 659.7,555.3 661.2,555.4 662.8,555.5 664.4,555.6 665.9,555.7 667.5,555.8 669.1,555.9 670.6,556.0 672.2,556.1 673.7,556.2 675.3,556.3 676.9,556.4 678.4,556.4 680.0,556.5 681.5,556.6 683.0,556.6 684.5,556.7 686.1,556.8 687.6,556.8 689.1,556.9 690.6,557.0 692.1,557.0 693.6,557.1 695.1,557.1 696.7,557.2 698.2,557.3 699.7,557.3 701.2,557.4 702.7,557.4 704.2,557.5 705.8,557.5 707.3,557.6 708.8,557.7 710.3,557.7 711.8,557.8 713.3,557.8 714.8,557.9 716.4,557.9 717.9,558.0 719.4,558.0 720.9,558.1 722.4,558.1 723.9,558.2 725.5,558.2 727.0,558.3 728.5,558.3 730.0,558.4 731.5,558.5 733.0,558.5 734.5,558.6 736.1,558.6 737.6,558.7 739.1,558.7 740.6,558.8 742.1,558.8 743.6,558.9 745.2,558.9 746.7,559.0 748.2,559.0 749.7,559.1 751.2,559.1 752.7,559.2 754.2,559.2 755.8,559.3 757.3,559.3 758.8,559.4 760.3,559.4 761.8,559.5 763.3,559.5 764.8,559.5 766.4,559.6 767.9,559.6 769.4,559.7 770.9,559.7 772.4,559.8 773.9,559.8 775.5,559.9 777.0,559.9 778.5,560.0 780.0,560.0 781.5,560.0 783.0,560.1 784.5,560.1 786.1,560.2 787.6,560.2 789.1,560.3 790.6,560.3 792.1,560.4 793.6,560.4 795.2,560.5 796.7,560.5 798.2,560.6 799.7,560.6 801.2,560.6 802.7,560.7 804.2,560.7 805.8,560.8 807.3,560.8 808.8,560.9 810.3,560.9 811.8,560.9 813.3,561.0 814.8,561.0 816.4,561.1 817.9,561.1 819.4,561.1 820.9,561.2 822.4,561.2 823.9,561.2 825.5,561.2 827.0,561.3 828.5,561.3 830.0,561.3 831.5,561.3 833.0,561.3 834.6,561.4 836.1,561.4 837.6,561.4 839.1,561.4 840.6,561.4 842.1,561.4 843.7,561.4 845.2,561.5 846.7,561.5 848.2,561.5 849.7,561.5 851.3,561.5 852.8,561.5 854.3,561.5 855.8,561.5 857.3,561.6 858.9,561.6 860.4,561.6 861.9,561.6 863.4,561.6 864.9,561.6 866.5,561.6 868.0,561.6 869.5,561.6 871.0,561.6 872.5,561.6 874.0,561.6 875.6,561.7 877.1,561.7 878.6,561.7 880.1,561.7 881.6,561.7 883.2,561.7 884.7,561.7 886.2,561.7 887.7,561.7 889.2,561.7 890.8,561.7 892.3,561.7 893.8,561.7 895.3,561.7 896.8,561.7 898.3,561.7 899.9,561.8 901.4,561.8 902.9,561.8 904.4,561.8 905.9,561.8 907.5,561.8 909.0,561.8 910.5,561.8 912.0,561.8 913.5,561.8 915.1,561.8 916.6,561.8 918.1,561.8 919.6,561.8 921.1,561.8 922.6,561.8 924.2,561.8 925.7,561.9 927.2,561.9 928.7,561.9 930.2,561.9 931.8,561.9 933.3,561.9 934.8,561.9" stroke="#00ff00"/>
</g>
<rect x="215.2" y="256.3" width="270.1" height="268.2" fill="none" stroke="#000" stroke-width="2.8"/>
<g fill="none" stroke-width="3.3" stroke-linejoin="round">
<polyline points="242.3,257.6 242.7,259.0 243.1,260.5 243.5,261.9 243.9,263.4 244.3,264.8 244.7,266.3 245.1,267.7 245.5,269.2 245.9,270.6 246.3,272.1 246.7,273.6 247.1,275.0 247.4,276.5 247.8,277.9 248.2,279.4 248.6,280.8 249.0,282.3 249.4,283.7 249.7,285.2 250.1,286.6 250.5,288.1 250.9,289.5 251.3,291.0 251.6,292.5 252.0,293.9 252.4,295.4 252.8,296.8 253.1,298.3 253.5,299.7 253.9,301.2 254.3,302.7 254.6,304.1 255.0,305.6 255.4,307.0 255.8,308.5 256.1,309.9 256.5,311.4 256.9,312.8 257.3,314.3 257.6,315.8 258.0,317.2 258.4,318.7 258.7,320.1 259.1,321.6 259.5,323.0 259.9,324.5 260.2,326.0 260.6,327.4 261.0,328.9 261.3,330.3 261.7,331.8 262.1,333.2 262.5,334.7 262.8,336.2 263.2,337.6 263.6,339.1 264.0,340.5 264.3,342.0 264.7,343.4 265.1,344.9 265.5,346.3 265.9,347.8 266.2,349.3 266.6,350.7 267.0,352.2 267.4,353.6 267.8,355.1 268.2,356.5 268.5,358.0 268.9,359.4 269.3,360.9 269.7,362.3 270.1,363.8 270.5,365.2 270.9,366.7 271.3,368.1 271.7,369.6 272.1,371.0 272.5,372.5 272.9,373.9 273.3,375.4 273.7,376.8 274.1,378.3 274.5,379.7 274.9,381.2 275.3,382.6 275.7,384.1 276.2,385.5 276.6,387.0 277.0,388.4 277.4,389.9 277.8,391.3 278.3,392.7 278.7,394.2 279.1,395.6 279.5,397.1 280.0,398.5 280.4,399.9 280.8,401.4 281.3,402.8 281.7,404.3 282.2,405.7 282.6,407.1 283.1,408.5 283.6,410.0 284.1,411.4 284.6,412.8 285.1,414.2 285.6,415.6 286.2,417.0 286.8,418.4 287.4,419.8 288.0,421.2 288.6,422.5 289.3,423.9 289.9,425.2 290.6,426.6 291.4,427.9 292.1,429.2 292.9,430.4 293.8,431.7 294.6,432.9 295.5,434.1 296.5,435.3 297.4,436.5 298.4,437.6 299.5,438.7 300.5,439.7 301.6,440.8 302.8,441.7 304.0,442.7 305.2,443.6 306.4,444.4 307.7,445.2 309.0,446.0 310.3,446.7 311.6,447.4 313.0,448.0 314.4,448.6 315.8,449.1 317.4,449.6 318.9,450.0 320.5,450.5 322.0,451.0 323.6,451.4 325.1,451.9 326.7,452.2 328.2,452.5 329.8,452.8 331.3,453.0 332.9,453.2 334.4,453.5 336.0,453.7 337.5,453.9 339.1,454.1 340.6,454.3 342.2,454.5 343.7,454.7 345.3,454.9 346.9,455.2 348.5,455.4 350.2,455.7 351.8,455.9 353.5,456.1 355.1,456.3 356.8,456.5 358.5,456.6 360.2,456.8 361.8,456.9 363.5,457.1 365.2,457.2 366.7,457.3 368.2,457.4 369.7,457.5 371.2,457.5 372.7,457.6 374.3,457.7 375.8,457.8 377.3,457.8 378.8,457.9 380.3,458.0 382.0,458.1 383.7,458.3 385.3,458.4 387.0,458.6 388.7,458.7 390.2,458.8 391.7,458.9 393.3,459.0 394.8,459.1 396.3,459.2 397.8,459.3 399.3,459.4 400.9,459.5 402.4,459.6 403.9,459.7 405.4,459.8 406.9,459.9 408.5,460.0 410.0,460.0 411.5,460.1 413.0,460.2 414.5,460.3 416.1,460.3 417.6,460.4 419.1,460.4 420.6,460.4 422.1,460.5 423.7,460.5 425.2,460.5 426.7,460.5 428.2,460.5 429.7,460.5 431.3,460.5 432.8,460.6 434.3,460.6 435.8,460.6 437.3,460.5 438.9,460.5 440.4,460.5 441.9,460.5 443.4,460.5 445.0,460.5 446.5,460.5 448.0,460.5 449.5,460.5 451.0,460.5 452.6,460.5 454.1,460.5 455.6,460.5 457.1,460.5 458.6,460.5 460.1,460.5 461.7,460.5 463.2,460.5 464.7,460.6 466.2,460.6 467.7,460.6 469.2,460.7 470.7,460.7 472.0,462.0 473.6,462.1 475.2,462.2 476.8,462.2 478.4,462.2 480.1,462.1 481.7,462.1 483.3,462.0 485.0,462.0 486.6,462.0" stroke="#0000ff"/>
<polyline points="264.9,257.6 265.2,259.1 265.5,260.6 265.8,262.0 266.1,263.5 266.3,265.0 266.6,266.5 266.9,267.9 267.2,269.4 267.4,270.9 267.7,272.4 268.0,273.9 268.3,275.3 268.5,276.8 268.8,278.3 269.0,279.8 269.3,281.3 269.6,282.8 269.8,284.2 270.1,285.7 270.4,287.2 270.6,288.7 270.9,290.2 271.1,291.7 271.4,293.1 271.6,294.6 271.9,296.1 272.1,297.6 272.4,299.1 272.7,300.6 272.9,302.0 273.2,303.5 273.4,305.0 273.7,306.5 273.9,308.0 274.2,309.5 274.4,310.9 274.7,312.4 274.9,313.9 275.2,315.4 275.5,316.9 275.7,318.3 276.0,319.8 276.2,321.3 276.5,322.8 276.8,324.3 277.0,325.8 277.3,327.2 277.6,328.7 277.8,330.2 278.1,331.7 278.4,333.2 278.7,334.6 278.9,336.1 279.2,337.6 279.5,339.1 279.8,340.6 280.1,342.0 280.4,343.5 280.6,345.0 280.9,346.5 281.2,347.9 281.5,349.4 281.8,350.9 282.1,352.4 282.5,353.8 282.8,355.3 283.1,356.8 283.4,358.2 283.7,359.7 284.0,361.2 284.4,362.7 284.7,364.1 285.0,365.6 285.4,367.1 285.7,368.5 286.1,370.0 286.4,371.5 286.8,372.9 287.1,374.4 287.5,375.8 287.9,377.3 288.2,378.8 288.6,380.2 289.0,381.7 289.4,383.1 289.8,384.6 290.2,386.0 290.6,387.5 291.0,388.9 291.4,390.4 291.9,391.8 292.3,393.2 292.8,394.7 293.2,396.1 293.7,397.5 294.2,398.9 294.8,400.4 295.3,401.8 295.9,403.2 296.4,404.5 297.0,405.9 297.7,407.3 298.3,408.7 299.0,410.0 299.7,411.3 300.4,412.7 301.1,414.0 301.9,415.3 302.7,416.5 303.5,417.8 304.4,419.0 305.3,420.2 306.2,421.4 307.2,422.6 308.2,423.7 309.2,424.8 310.3,425.9 311.3,426.9 312.5,427.9 313.6,428.9 314.8,429.8 316.0,430.7 317.2,431.6 318.5,432.4 319.8,433.2 321.1,434.0 322.4,434.7 323.7,435.4 325.1,436.0 326.6,436.4 328.2,436.9 329.7,437.4 331.3,437.8 332.8,438.3 334.4,438.7 335.9,439.1 337.5,439.4 339.0,439.6 340.6,439.8 342.1,440.0 343.7,440.1 345.2,440.2 346.8,440.3 348.3,440.5 349.9,440.6 351.5,440.7 353.0,440.9 354.5,441.1 356.1,441.3 357.6,441.6 359.2,441.8 360.7,442.0 362.3,442.3 363.8,442.5 365.4,442.8 366.9,443.0 368.5,443.3 370.0,443.5 371.6,443.7 373.2,444.0 374.8,444.2 376.4,444.4 378.1,444.7 379.7,444.9 381.3,445.0 382.9,445.2 384.6,445.3 386.2,445.4 387.9,445.5 389.5,445.5 391.2,445.6 392.8,445.6 394.5,445.7 396.1,445.7 397.8,445.8 399.4,445.9 401.1,446.0 402.7,446.1 404.4,446.2 406.0,446.4 407.7,446.5 409.3,446.6 411.0,446.8 412.6,446.9 414.2,447.0 415.8,447.2 417.3,447.4 418.9,447.6 420.5,447.7 422.1,447.9 423.6,448.1 425.2,448.3 426.8,448.4 428.4,448.5 430.0,448.6 431.5,448.7 433.1,448.8 434.7,448.9 436.3,449.0 437.8,449.1 439.4,449.3 441.0,449.4 442.6,449.6 444.3,449.8 445.9,450.0 447.5,450.2 449.1,450.4 450.7,450.6 452.4,450.8 454.0,451.0 455.6,451.2 457.2,451.4 458.8,451.5 460.4,451.7 462.1,451.9 463.7,452.0 465.3,452.2 466.9,452.3 468.4,452.4 469.9,452.5 471.4,452.6 473.0,452.7 474.5,452.7 476.0,452.8 477.5,452.9 479.0,453.0 480.5,453.0 482.1,453.1 483.6,453.2 485.1,453.2 486.6,453.3" stroke="#ff0000"/>
<polyline points="270.3,257.6 270.7,259.0 271.2,260.5 271.6,261.9 272.0,263.4 272.4,264.8 272.8,266.3 273.3,267.7 273.7,269.2 274.1,270.6 274.5,272.1 274.9,273.5 275.3,275.0 275.7,276.4 276.1,277.9 276.5,279.4 276.9,280.8 277.3,282.3 277.7,283.7 278.1,285.2 278.5,286.6 278.9,288.1 279.3,289.6 279.7,291.0 280.0,292.5 280.4,293.9 280.8,295.4 281.2,296.8 281.6,298.3 282.0,299.8 282.3,301.2 282.7,302.7 283.1,304.1 283.5,305.6 283.9,307.1 284.2,308.5 284.6,310.0 285.0,311.4 285.4,312.9 285.7,314.4 286.1,315.8 286.5,317.3 286.9,318.7 287.2,320.2 287.6,321.7 288.0,323.1 288.4,324.6 288.7,326.1 289.1,327.5 289.5,329.0 289.9,330.4 290.2,331.9 290.6,333.4 291.0,334.8 291.4,336.3 291.7,337.7 292.1,339.2 292.5,340.7 292.9,342.1 293.3,343.6 293.6,345.0 294.0,346.5 294.4,348.0 294.8,349.4 295.2,350.9 295.5,352.3 295.9,353.8 296.3,355.3 296.7,356.7 297.1,358.2 297.5,359.6 297.9,361.1 298.3,362.5 298.7,364.0 299.1,365.5 299.5,366.9 299.9,368.4 300.3,369.8 300.7,371.3 301.1,372.7 301.5,374.2 301.9,375.6 302.3,377.1 302.7,378.5 303.1,380.0 303.5,381.4 304.0,382.9 304.4,384.3 304.8,385.8 305.2,387.2 305.7,388.7 306.1,390.1 306.5,391.6 307.0,393.0 307.4,394.4 307.9,395.9 308.3,397.3 308.8,398.8 309.2,400.2 309.7,401.6 310.1,403.1 310.6,404.5 311.0,406.0 311.5,407.4 312.0,408.8 312.4,410.3 312.9,411.7 313.4,413.1 313.9,414.5 314.4,416.0 314.9,417.4 315.4,418.8 315.8,420.3 316.3,421.7 316.9,423.1 317.4,424.5 317.9,425.9 318.4,427.3 318.9,428.8 319.5,430.2 320.0,431.6 320.6,433.0 321.1,434.4 321.7,435.8 322.3,437.2 322.8,438.6 323.4,440.0 324.0,441.3 324.7,442.7 325.3,444.1 325.9,445.4 326.6,446.8 327.3,448.2 327.9,449.5 328.6,450.8 329.4,452.2 330.1,453.5 330.8,454.8 331.6,456.1 332.3,457.4 333.1,458.7 333.9,460.0 334.8,461.2 335.6,462.5 336.5,463.7 337.3,465.0 338.2,466.2 339.1,467.4 340.1,468.6 341.0,469.7 342.0,470.9 343.0,472.0 344.0,473.2 345.0,474.3 346.1,475.3 347.1,476.4 348.2,477.5 349.3,478.5 350.7,479.5 352.0,480.6 353.4,481.6 354.8,482.7 356.2,483.6 357.7,484.4 359.2,485.1 360.7,485.7 362.3,486.2 363.8,486.7 365.4,487.1 367.0,487.6 368.6,488.0 370.2,488.5 371.8,489.0 373.3,489.4 374.9,489.8 376.5,490.2 378.1,490.6 379.7,491.0 381.2,491.5 382.8,491.9 384.4,492.4 386.1,493.0 387.7,493.5 389.4,493.9 391.3,494.2 393.3,494.3 395.3,494.4 396.9,494.5 398.6,494.5 400.2,494.6 401.8,494.6 403.5,494.7 405.1,494.7 406.7,494.8 408.4,494.8 410.0,494.9 411.6,495.0 413.2,495.1 414.9,495.1 416.5,495.2 418.1,495.3 419.7,495.3 421.4,495.4 423.0,495.5 424.6,495.7 426.2,495.8 427.8,496.0 429.4,496.2 430.9,496.5 432.5,496.9 434.0,497.4 435.5,498.0 437.0,498.5 438.5,499.0 440.1,499.6 441.7,500.2 443.3,500.7 444.9,501.0 446.4,501.1 448.0,501.1 449.5,501.2 451.0,501.2 452.6,501.2 454.1,501.2 455.7,501.2 457.2,501.3 458.8,501.3 460.3,501.3 461.9,501.2 463.4,501.2 464.9,501.2 466.5,501.2 468.0,501.2 469.6,501.2 471.1,501.1 472.7,501.1 474.2,501.1 475.8,501.1 477.3,501.1 478.9,501.0 480.4,501.0 482.0,501.0 483.5,501.0 485.1,501.0 486.6,501.0" stroke="#00ff00"/>
</g>
<g stroke="#000" stroke-width="2.6" fill="none">
<polyline points="578.2,491.4 567.5,491.4 567.5,502.6"/>
<line x1="589.2" y1="491.4" x2="601.2" y2="491.4"/>
<line x1="612.5" y1="491.4" x2="624.7" y2="491.4"/>
<line x1="635.7" y1="491.4" x2="647.7" y2="491.4"/>
<line x1="660.3" y1="490.3" x2="660.3" y2="502"/>
<line x1="660.3" y1="513.3" x2="660.3" y2="525.2"/>
<line x1="660.3" y1="536" x2="660.3" y2="548"/>
<line x1="567.5" y1="513.3" x2="567.5" y2="525.2"/>
<line x1="567.5" y1="535.8" x2="567.5" y2="548.5"/>
<polyline points="567.5,560 567.5,565.9 574.4,565.9"/>
<line x1="585.4" y1="565.9" x2="597.6" y2="565.9"/>
<line x1="608.6" y1="565.9" x2="620.9" y2="565.9"/>
<line x1="631.5" y1="565.9" x2="643.9" y2="565.9"/>
<line x1="655.1" y1="567.2" x2="661.6" y2="559.4"/>
</g>
<line x1="568" y1="522" x2="496" y2="478" stroke="#000" stroke-width="3"/>
<polygon points="483.5,471.1 501.5,476 496.4,483.7" fill="#000" stroke="#000" stroke-width="1" stroke-linejoin="round"/>
<g font-size="29"><text transform="translate(161.16,712.5) scale(0.96,1.06)" text-anchor="middle">100</text><text transform="translate(290.08,712.5) scale(0.96,1.06)" text-anchor="middle">200</text><text transform="translate(419.01,712.5) scale(0.96,1.06)" text-anchor="middle">300</text><text transform="translate(547.93,712.5) scale(0.96,1.06)" text-anchor="middle">400</text><text transform="translate(676.85,712.5) scale(0.96,1.06)" text-anchor="middle">500</text><text transform="translate(805.78,712.5) scale(0.96,1.06)" text-anchor="middle">600</text><text transform="translate(934.70,712.5) scale(0.96,1.06)" text-anchor="middle">700</text><text transform="translate(82.3,684.30) scale(0.96,1.06)" text-anchor="end">-20</text><text transform="translate(82.3,580.82) scale(0.96,1.06)" text-anchor="end">0</text><text transform="translate(82.3,477.35) scale(0.96,1.06)" text-anchor="end">20</text><text transform="translate(82.3,373.87) scale(0.96,1.06)" text-anchor="end">40</text><text transform="translate(82.3,270.39) scale(0.96,1.06)" text-anchor="end">60</text><text transform="translate(82.3,166.92) scale(0.96,1.06)" text-anchor="end">80</text><text transform="translate(82.3,63.44) scale(0.96,1.06)" text-anchor="end">100</text></g>
<g stroke-width="3.9" stroke-linecap="round">
<line x1="583.1" y1="36.6" x2="646" y2="36.6" stroke="#0000ff"/>
<line x1="583.1" y1="71.1" x2="646" y2="71.1" stroke="#000"/>
<line x1="583.1" y1="105.8" x2="646" y2="105.8" stroke="#ff0000"/>
<line x1="583.1" y1="140.5" x2="646" y2="140.5" stroke="#00ff00"/>
</g>
<g font-size="28">
<text transform="translate(652.5,45.9) scale(1,1.05)">P(BMA-SMA-St)</text>
<text transform="translate(652.5,80.4) scale(1,1.05)">MIL-101(Fe)</text>
<text transform="translate(652.5,115) scale(1,1.05)">P(B-S-S)/MIL-101(Fe)</text>
<text transform="translate(652.5,149.6) scale(1,1.05)">Oil-absorbing coating</text>
</g>
<g transform="translate(397.6,767) scale(1.032,1)"><text x="0" y="0" font-size="34">Temperature(</text></g><text x="591" y="757" font-size="24">°</text><text x="597" y="767" font-size="34">C</text><text x="623" y="767" font-size="34">)</text>
<text transform="translate(25.3,447) rotate(-90)" font-size="35">Weight loss(%)</text>
</svg>
</body></html>
